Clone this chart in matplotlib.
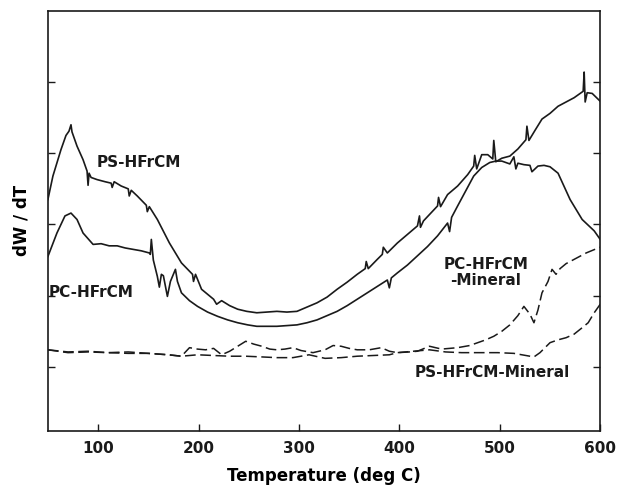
import numpy as np
import matplotlib
matplotlib.use("Agg")
import matplotlib.pyplot as plt

# DTG curves, values (arbitrary units)
ps_x = [50, 55, 63, 68, 71, 73, 74, 79, 85, 89, 90, 91, 93, 99, 107, 113, 114, 116, 123, 130, 131, 133, 139, 148, 149, 151,
        159, 171, 183, 194, 195, 197, 203, 209, 215, 218, 223, 231, 239, 248, 258, 268, 278, 288, 298, 308, 318, 328,
        338, 348, 358, 366, 367, 369, 378, 383, 384, 388, 398, 408, 418, 420, 421, 424, 438, 439, 441, 448, 458,
        468, 474, 475, 477, 482, 488, 493, 494, 496, 502, 510, 518, 526, 527, 529, 535, 542, 550, 558, 566, 574,
        583, 584, 585, 587, 592, 600]
ps_y = [3.35, 3.68, 4.05, 4.25, 4.31, 4.40, 4.30, 4.10, 3.91, 3.75, 3.55, 3.72, 3.66, 3.63, 3.60, 3.58, 3.52,
        3.60, 3.54, 3.50, 3.40, 3.48, 3.40, 3.27, 3.18, 3.25, 3.07, 2.74, 2.46, 2.30, 2.20, 2.30, 2.09, 2.02, 1.95,
        1.88, 1.93, 1.86, 1.81, 1.78, 1.76, 1.77, 1.78, 1.77, 1.78, 1.84, 1.90, 1.98, 2.09, 2.19, 2.30, 2.38, 2.48,
        2.38, 2.51, 2.58, 2.68, 2.60, 2.74, 2.86, 2.98, 3.12, 2.96, 3.05, 3.26, 3.38, 3.25, 3.42, 3.54, 3.70, 3.82,
        3.97, 3.78, 3.98, 3.98, 3.92, 4.18, 3.88, 3.93, 3.96, 4.06, 4.19, 4.38, 4.18, 4.32, 4.48, 4.56, 4.66,
        4.72, 4.78, 4.87, 5.14, 4.72, 4.85, 4.84, 4.73]

pc_x = [50, 59, 67, 73, 79, 85, 95, 103, 111, 119, 127, 135, 143, 151, 152, 153, 155, 159, 161, 163, 165, 169,
        172, 177, 179, 183, 191, 199, 209, 219, 229, 239, 249, 258, 268, 278, 288, 298, 308, 318, 328, 338, 348,
        358, 368, 378, 388, 390, 392, 398, 408, 418, 428, 438, 448, 450, 452, 458, 466, 474, 482, 490, 496, 502,
        510, 514, 516, 518, 524, 530, 532, 538, 544, 550, 558, 570, 582, 594, 600]
pc_y = [2.55, 2.88, 3.12, 3.16, 3.07, 2.88, 2.72, 2.73, 2.70, 2.70, 2.67, 2.65, 2.63, 2.60, 2.58, 2.79, 2.50,
        2.27, 2.12, 2.30, 2.28, 1.99, 2.20, 2.37, 2.20, 2.04, 1.93, 1.85, 1.77, 1.71, 1.66, 1.62, 1.59, 1.57, 1.57,
        1.57, 1.58, 1.59, 1.62, 1.66, 1.72, 1.78, 1.86, 1.95, 2.04, 2.13, 2.22, 2.11, 2.25, 2.32, 2.43, 2.56, 2.69,
        2.84, 3.02, 2.90, 3.10, 3.26, 3.47, 3.68, 3.80, 3.87, 3.89, 3.89, 3.85, 3.95, 3.78, 3.86, 3.84, 3.83,
        3.74, 3.82, 3.83, 3.81, 3.72, 3.35, 3.07, 2.91, 2.79]

pcm_x = [50, 70, 90, 110, 130, 150, 170, 183, 191, 199, 207, 215, 223, 231, 239, 247, 255, 263, 271, 278, 286,
         294, 302, 314, 326, 334, 342, 350, 358, 370, 382, 390, 398, 410, 418, 430, 442, 458, 470, 478, 486, 494,
         502, 510, 518, 524, 530, 534, 538, 542, 548, 552, 556, 560, 566, 574, 586, 598, 600]
pcm_y = [1.24, 1.21, 1.22, 1.20, 1.21, 1.19, 1.17, 1.15, 1.27, 1.25, 1.24, 1.26, 1.17, 1.22, 1.29, 1.36, 1.32,
         1.29, 1.25, 1.24, 1.25, 1.27, 1.23, 1.20, 1.24, 1.30, 1.29, 1.26, 1.24, 1.24, 1.27, 1.22, 1.20, 1.21,
         1.22, 1.29, 1.25, 1.27, 1.30, 1.34, 1.38, 1.43, 1.50, 1.59, 1.72, 1.85, 1.74, 1.62, 1.80, 2.04, 2.20,
         2.37, 2.30, 2.38, 2.45, 2.51, 2.60, 2.67, 2.68]

psm_x = [50, 70, 90, 110, 130, 150, 170, 183, 199, 215, 231, 247, 263, 278, 294, 310, 326, 342, 358, 374, 390,
         398, 414, 430, 446, 462, 478, 498, 514, 526, 534, 540, 550, 558, 566, 574, 582, 588, 594, 600]
psm_y = [1.24, 1.20, 1.21, 1.20, 1.19, 1.19, 1.17, 1.15, 1.17, 1.16, 1.15, 1.15, 1.14, 1.13, 1.13, 1.17,
         1.12, 1.13, 1.15, 1.16, 1.17, 1.20, 1.22, 1.24, 1.21, 1.20, 1.20, 1.20, 1.19, 1.16, 1.14, 1.20, 1.34,
         1.38, 1.41, 1.46, 1.55, 1.62, 1.76, 1.88]

xticks = [100, 200, 300, 400, 500, 600]
yticks = [1, 2, 3, 4, 5]

fig = plt.figure(figsize=(6.22, 4.92), dpi=100)
ax = fig.add_axes([0.077, 0.124, 0.888, 0.854])

ink = "#1a1a1a"
ax.plot(ps_x, ps_y, color=ink, lw=1.2)
ax.plot(pc_x, pc_y, color=ink, lw=1.2)
ax.plot(pcm_x, pcm_y, color=ink, lw=1.1, dashes=(7, 3))
ax.plot(psm_x, psm_y, color=ink, lw=1.1, dashes=(7, 3))

# curve labels
lab = dict(fontsize=11, fontweight="bold", color=ink)
ax.text(99, 3.87, "PS-HFrCM", ha="left", va="center", **lab)
ax.text(51, 2.04, "PC-HFrCM", ha="left", va="center", **lab)
ax.text(486, 2.33, "PC-HFrCM\n-Mineral", ha="center", va="center", linespacing=1.1, **lab)
ax.text(492, 0.92, "PS-HFrCM-Mineral", ha="center", va="center", **lab)

ax.set_xlim(50, 600)
ax.set_ylim(0.1, 6.0)
ax.set_xticks(xticks)
ax.set_yticks(yticks)
ax.set_yticklabels([])
ax.tick_params(direction="in", length=5, width=1, right=True, colors=ink, labelsize=11, pad=7)
for t in ax.get_xticklabels():
    t.set_fontweight("bold")
for s in ax.spines.values():
    s.set_linewidth(1.2)
    s.set_color(ink)

ax.set_xlabel("Temperature (deg C)", fontsize=12, fontweight="bold")
ax.set_ylabel("dW / dT", fontsize=12, fontweight="bold")
ax.xaxis.set_label_coords(0.5, -0.085)
ax.yaxis.set_label_coords(-0.032, 0.5)

fig.savefig("out.png", dpi=100)
